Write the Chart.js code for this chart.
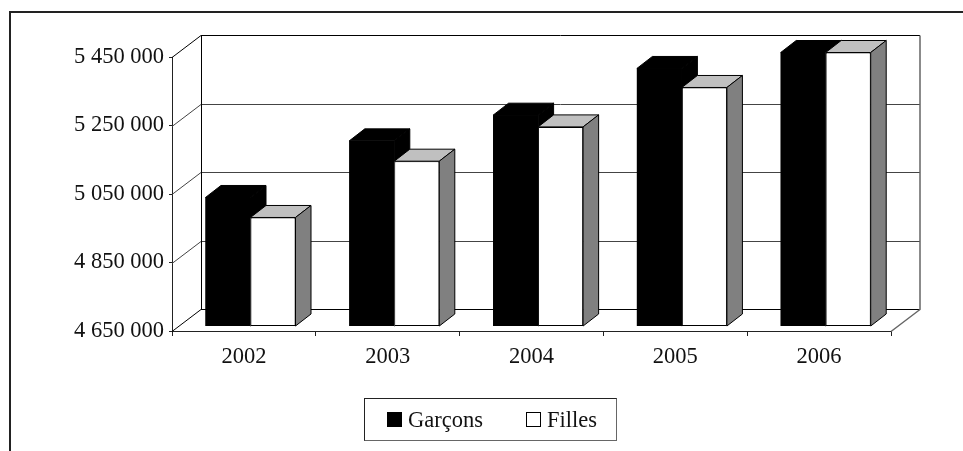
<!DOCTYPE html>
<html>
<head>
<meta charset="utf-8">
<script src="https://cdn.jsdelivr.net/npm/chart.js@4"></script>
<style>
  html, body { margin: 0; padding: 0; background: #fff; overflow: hidden; }
  #wrap { position: relative; width: 963px; height: 451px; }
  #frame { position: absolute; left: 9px; top: 11px; right: 0; bottom: 0; border-left: 2px solid #222; border-top: 2px solid #222; }
  #chart { position: absolute; left: 0; top: 0; }
  #legend {
    position: absolute; left: 364px; top: 398px; width: 253px; height: 43px; box-sizing: border-box;
    border: 1px solid #222; border-right-color: #666; border-bottom-color: #666;
    display: flex; align-items: center; padding-left: 22px;
    font: 22.5px "Liberation Serif", serif; color: #111;
  }
  .legend-item { display: flex; align-items: center; margin-right: 43px; }
  .color-box { width: 15px; height: 15px; box-sizing: border-box; border: 1px solid #000; margin-right: 6px; }
</style>
</head>
<body>
<div id="wrap">
  <div id="frame"></div>
  <canvas id="chart" width="963" height="451"></canvas>
  <div id="legend"></div>
</div>
<script>
const categories = ['2002', '2003', '2004', '2005', '2006'];
const garcons = [5026700, 5192000, 5267000, 5403400, 5450000];
const filles = [4968300, 5132700, 5232800, 5347900, 5450000];
const yTickLabels = ['4 650 000', '4 850 000', '5 050 000', '5 250 000', '5 450 000'];

// depth of the fake 3D box, and of the bars standing inside it
const WALL_DX = 29, WALL_DY = 22;
const BAR_DX = 15.5, BAR_DY = 12;
const BAR_SHIFT_X = 6.6, BAR_SHIFT_Y = 4.5;
const LINE = '#222';

function drawWalls(chart) {
  const { ctx, chartArea: a, scales: { y } } = chart;
  ctx.save();
  ctx.lineWidth = 1;
  y.ticks.forEach(t => {
    const py = Math.round(y.getPixelForValue(t.value)) + 0.5;
    ctx.strokeStyle = (t.value === y.min || t.value === y.max) ? '#000' : '#444';
    ctx.beginPath();
    ctx.moveTo(a.left, py);
    ctx.lineTo(a.left + WALL_DX, py - WALL_DY);
    ctx.lineTo(a.right + WALL_DX, py - WALL_DY);
    ctx.stroke();
  });
  const top = Math.round(y.getPixelForValue(y.max)) + 0.5 - WALL_DY;
  const floor = Math.round(y.getPixelForValue(y.min)) + 0.5;
  ctx.strokeStyle = '#000';
  ctx.beginPath();
  ctx.moveTo(a.left + WALL_DX + 0.5, top);
  ctx.lineTo(a.left + WALL_DX + 0.5, floor - WALL_DY);
  ctx.stroke();
  // right wall edge and floor corner
  ctx.strokeStyle = '#666';
  ctx.lineWidth = 1.5;
  ctx.beginPath();
  ctx.moveTo(a.right + WALL_DX, top);
  ctx.lineTo(a.right + WALL_DX, floor - WALL_DY);
  ctx.lineTo(a.right, floor);
  ctx.stroke();
  ctx.restore();
}

function drawFaces(chart, index) {
  const ctx = chart.ctx;
  const ds = chart.data.datasets[index];
  ctx.save();
  ctx.translate(BAR_SHIFT_X, -BAR_SHIFT_Y);
  ctx.lineWidth = 1;
  ctx.strokeStyle = '#000';
  chart.getDatasetMeta(index).data.forEach(bar => {
    const left = bar.x - bar.width / 2, right = bar.x + bar.width / 2;
    // backing under the front face, keeps the joins free of light seams
    ctx.fillStyle = ds.backgroundColor;
    ctx.fillRect(left, bar.y, bar.width, bar.base - bar.y);
    ctx.fillStyle = ds.topColor;
    ctx.beginPath();
    ctx.moveTo(left, bar.y);
    ctx.lineTo(left + BAR_DX, bar.y - BAR_DY);
    ctx.lineTo(right + BAR_DX, bar.y - BAR_DY);
    ctx.lineTo(right, bar.y);
    ctx.closePath();
    ctx.fill();
    ctx.stroke();
    ctx.fillStyle = ds.sideColor;
    ctx.beginPath();
    ctx.moveTo(right, bar.y);
    ctx.lineTo(right + BAR_DX, bar.y - BAR_DY);
    ctx.lineTo(right + BAR_DX, bar.base - BAR_DY);
    ctx.lineTo(right, bar.base);
    ctx.closePath();
    ctx.fill();
    ctx.stroke();
  });
  ctx.restore();
}

const box3d = {
  id: 'box3d',
  beforeDatasetsDraw(chart) {
    drawWalls(chart);
    chart.data.datasets.forEach((ds, i) => drawFaces(chart, i));
  },
  // front faces are the library's own bars, moved into the box
  beforeDatasetDraw(chart) {
    chart.ctx.save();
    chart.ctx.translate(BAR_SHIFT_X, -BAR_SHIFT_Y);
  },
  afterDatasetDraw(chart) {
    chart.ctx.restore();
  }
};

new Chart(document.getElementById('chart'), {
  type: 'bar',
  data: {
    labels: categories,
    datasets: [
      { label: 'Garçons', data: garcons, backgroundColor: '#000', borderColor: '#000', borderWidth: 0,
        topColor: '#000', sideColor: '#000', clip: false },
      { label: 'Filles', data: filles, backgroundColor: '#fff', borderColor: '#000', borderWidth: 1,
        topColor: '#c0c0c0', sideColor: '#808080', clip: false }
    ]
  },
  plugins: [box3d],
  options: {
    responsive: false,
    animation: false,
    layout: { padding: { left: 0, top: 57, right: 72, bottom: 0 } },
    plugins: { legend: { display: false }, tooltip: { enabled: false } },
    datasets: { bar: { barPercentage: 1, categoryPercentage: 0.626, borderSkipped: false, base: 4650000 } },
    scales: {
      x: {
        afterFit: s => { s.height = 120; },
        grid: { offset: true, drawOnChartArea: false, tickLength: 5, color: LINE },
        border: { color: LINE },
        ticks: { color: '#111', padding: 8, maxRotation: 0, font: { family: 'Liberation Serif', size: 22.5 } }
      },
      y: {
        min: 4650000,
        max: 5450000,
        afterFit: s => { s.width = 172; },
        grid: { drawOnChartArea: false, tickLength: 3, color: LINE },
        border: { color: LINE },
        ticks: {
          stepSize: 200000,
          padding: 5,
          color: '#111',
          font: { family: 'Liberation Serif', size: 22.5 },
          callback: (v, i) => yTickLabels[i]
        }
      }
    }
  }
});

// legend by hand, the box sits below the plot
const legendColors = ['#000', '#fff'];
const legendDiv = document.getElementById('legend');
['Garçons', 'Filles'].forEach((name, i) => {
  const entry = document.createElement('div');
  entry.classList.add('legend-item');
  entry.innerHTML = `<span class="color-box" style="background:${legendColors[i]}"></span>${name}`;
  legendDiv.appendChild(entry);
});
</script>
</body>
</html>
